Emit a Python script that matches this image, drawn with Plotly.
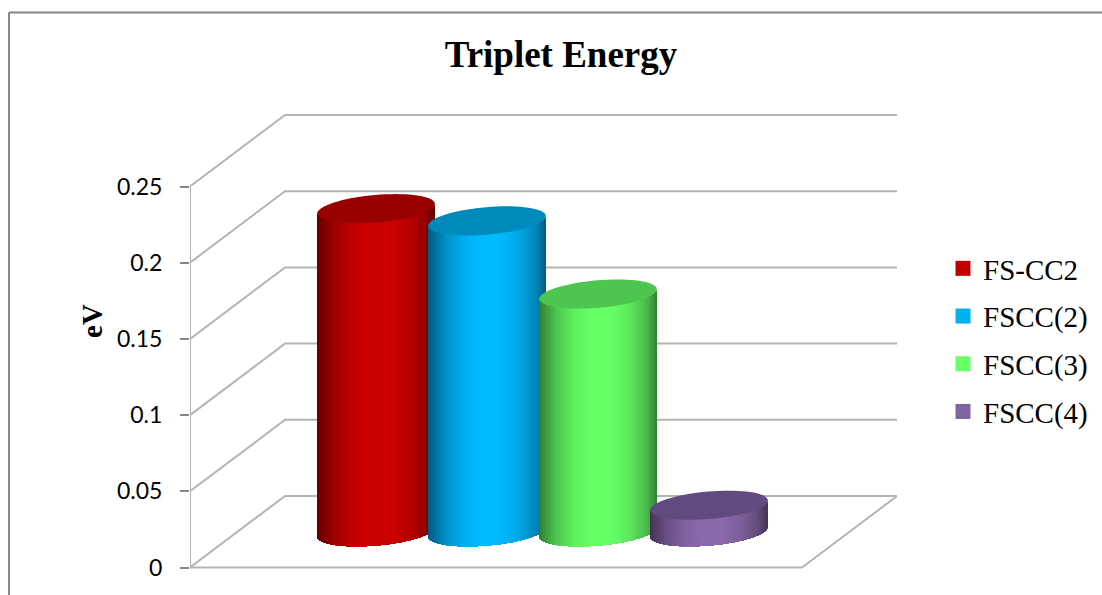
import numpy as np
import plotly.graph_objects as go

# Chart data
series_names = ["FS-CC2", "FSCC(2)", "FSCC(3)", "FSCC(4)"]
series_values = [0.212, 0.204, 0.156, 0.0174]
tick_values = [0, 0.05, 0.1, 0.15, 0.2, 0.25]
tick_labels = ["0", "0.05", "0.1", "0.15", "0.2", "0.25"]

# Colours: side of the cylinder, top cap, legend swatch
side_colors = [(204, 0, 0), (0, 185, 255), (102, 255, 102), (138, 105, 171)]
cap_colors = ["#990000", "#0089BB", "#4EC54E", "#614A7E"]
swatch_colors = ["#C00000", "#00B0F0", "#66FF66", "#8064A2"]
GRID = "#B4B4B4"
FRAME = "#868686"

# Oblique projection of the 3D box, in axis units
# (one x unit is one series slot, depth runs from 0 at the front to 1 at the back)
FLOOR_WIDTH = 5.514
DEPTH_DX = 0.856
DEPTH_DY = 0.0469
SLOT_OFFSET = 1.248
RADIUS_X = 0.50
RADIUS_D = 0.204


def project(x, value, depth):
    return x + depth * DEPTH_DX, value + depth * DEPTH_DY


fig = go.Figure()


def add_line(xs, ys):
    fig.add_trace(go.Scatter(x=xs, y=ys, mode="lines", cliponaxis=False,
                             line=dict(color=GRID, width=2), hoverinfo="skip",
                             showlegend=False))


# Back wall, side wall and floor
for v in tick_values:
    x0, y0 = project(0, v, 0)
    x1, y1 = project(0, v, 1)
    x2, y2 = project(FLOOR_WIDTH, v, 1)
    add_line([x0, x1, x2], [y0, y1, y2])
add_line([0, 0], [0, tick_values[-1]])
add_line([0, FLOOR_WIDTH], [0, 0])
fx, fy = project(FLOOR_WIDTH, 0, 1)
add_line([FLOOR_WIDTH, fx], [0, fy])

# Shading across the visible side of a cylinder, left to right
SHADE_POS = [0.0, 0.05, 0.15, 0.3, 0.42, 0.62, 0.78, 0.92, 1.0]
SHADE_VAL = [0.5, 0.6, 0.78, 0.94, 1.0, 1.0, 0.9, 0.72, 0.5]

tilt = np.arctan2(RADIUS_D * DEPTH_DX, RADIUS_X)
angles = np.linspace(tilt, tilt - np.pi, 65)


def ellipse_point(cx, value, t):
    return project(cx + RADIUS_X * np.cos(t), value, 0.5 + RADIUS_D * np.sin(t))


for i, (value, side, cap) in enumerate(zip(series_values, side_colors, cap_colors)):
    cx = SLOT_OFFSET + i
    lx = ellipse_point(cx, 0, angles[-1])[0]
    rx = ellipse_point(cx, 0, angles[0])[0]
    # Side of the cylinder: nested shaded panels painted from right to left,
    # each one running on to the left edge so no seams show between them
    for n in range(len(angles) - 1):
        seg = angles[n:]
        bx, by = ellipse_point(cx, 0, seg)
        tx, ty = ellipse_point(cx, value, seg)
        mid_x = ellipse_point(cx, 0, (angles[n] + angles[n + 1]) / 2)[0]
        s = (mid_x - lx) / (rx - lx)
        k = np.interp(s, SHADE_POS, SHADE_VAL)
        color = "rgb({},{},{})".format(*[int(c * k) for c in side])
        fig.add_trace(go.Scatter(
            x=np.concatenate([bx, tx[::-1]]), y=np.concatenate([by, ty[::-1]]),
            mode="none", fill="toself", fillcolor=color,
            hoverinfo="skip", showlegend=False,
        ))
    # Top cap
    ex, ey = ellipse_point(cx, value, np.linspace(0, 2 * np.pi, 73))
    fig.add_trace(go.Scatter(x=ex, y=ey, mode="none", fill="toself", fillcolor=cap,
                             hoverinfo="skip", showlegend=False))

# Legend entries
for name, color in zip(series_names, swatch_colors):
    fig.add_trace(go.Scatter(x=[None], y=[None], mode="markers", name=name,
                             legendgroup=name,
                             marker=dict(symbol="square", size=15, color=color)))

W, H = 1102, 595
LEFT, RIGHT_PX, TOP, BOTTOM_PX = 190, 897, 67, 575
PX_PER_VALUE = 381 / 0.25
PX_PER_SLOT = 111
ZERO_PX = 567.5

fig.update_layout(
    width=W, height=H,
    margin=dict(l=LEFT, r=W - RIGHT_PX, t=TOP, b=H - BOTTOM_PX, pad=0),
    paper_bgcolor="white", plot_bgcolor="white",
    title=dict(text="<b>Triplet Energy</b>", x=561 / W, xref="container", xanchor="center",
               y=1 - 54 / H, yref="container", yanchor="middle",
               font=dict(family="Liberation Serif", size=37, color="black")),
    xaxis=dict(range=[0, (RIGHT_PX - LEFT) / PX_PER_SLOT], visible=False, fixedrange=True),
    yaxis=dict(
        range=[(ZERO_PX - BOTTOM_PX) / PX_PER_VALUE, (ZERO_PX - TOP) / PX_PER_VALUE],
        tickmode="array", tickvals=tick_values, ticktext=tick_labels,
        ticks="outside", ticklen=9, tickwidth=2, tickcolor=FRAME,
        ticklabelstandoff=13, showgrid=False, zeroline=False, showline=False,
        tickfont=dict(family="Lato", size=23, color="black"),
        title=dict(text="<b>eV</b>", standoff=5,
                   font=dict(family="Liberation Serif", size=29, color="black")),
        fixedrange=True,
    ),
    legend=dict(xref="container", yref="container", x=943 / W, xanchor="left",
                y=1 - 243 / H, yanchor="top",
                font=dict(family="Liberation Serif", size=29, color="black"),
                tracegroupgap=7, itemwidth=30, bgcolor="rgba(0,0,0,0)"),
    shapes=[
        dict(type="line", xref="paper", yref="paper",
             x0=(9 - LEFT) / (RIGHT_PX - LEFT), x1=(W - LEFT) / (RIGHT_PX - LEFT),
             y0=1 - (12.5 - TOP) / (BOTTOM_PX - TOP), y1=1 - (12.5 - TOP) / (BOTTOM_PX - TOP),
             line=dict(color=FRAME, width=2)),
        dict(type="line", xref="paper", yref="paper",
             x0=(9 - LEFT) / (RIGHT_PX - LEFT), x1=(9 - LEFT) / (RIGHT_PX - LEFT),
             y0=1 - (12.5 - TOP) / (BOTTOM_PX - TOP), y1=1 - (H - TOP) / (BOTTOM_PX - TOP),
             line=dict(color=FRAME, width=2)),
    ],
)

fig.write_html("out.html", config=dict(displayModeBar=False))
